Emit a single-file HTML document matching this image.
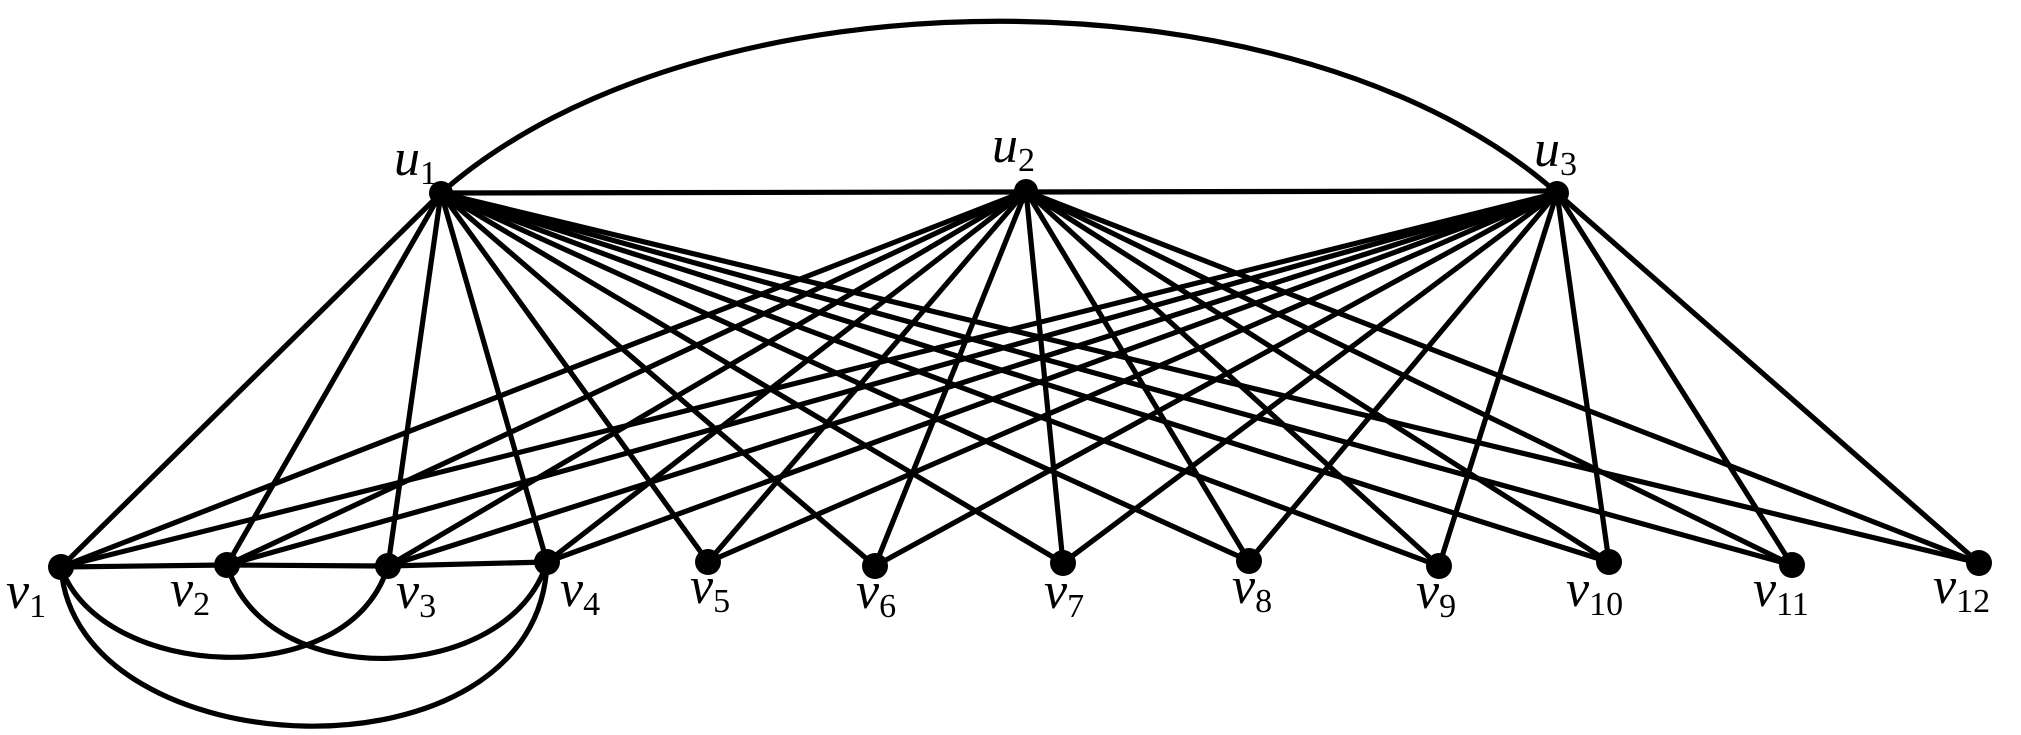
<!DOCTYPE html>
<html><head><meta charset="utf-8"><style>
html,body{margin:0;padding:0;background:#fff;}
svg{display:block;}
text{font-family:"Liberation Serif",serif;font-style:italic;fill:#000;}
.s{font-style:normal;}
</style></head><body>
<svg width="2021" height="735" viewBox="0 0 2021 735" xmlns="http://www.w3.org/2000/svg">
<g stroke="#000" stroke-width="5.2" fill="none" stroke-linecap="round">
<path d="M441,193 C700,-36 1300,-36 1557,193"/>
<line x1="441" y1="193" x2="1557" y2="191"/>
<path d="M61,567 C100,680 350,695 388,566"/>
<path d="M227,565 C266,695 510,685 547,562"/>
<path d="M61,567 C75,770 540,790 547,562"/>
<polyline points="61,567 227,565 388,566 547,562"/>
</g>
<g stroke="#000" stroke-width="5.2" stroke-linecap="round">
<line x1="441" y1="193" x2="61" y2="567"/><line x1="441" y1="193" x2="227" y2="565"/><line x1="441" y1="193" x2="388" y2="566"/><line x1="441" y1="193" x2="547" y2="562"/><line x1="441" y1="193" x2="708" y2="562"/><line x1="441" y1="193" x2="875" y2="566"/><line x1="441" y1="193" x2="1063" y2="563"/><line x1="441" y1="193" x2="1249" y2="561"/><line x1="441" y1="193" x2="1439" y2="566"/><line x1="441" y1="193" x2="1609" y2="562"/><line x1="441" y1="193" x2="1792" y2="565"/><line x1="441" y1="193" x2="1979" y2="563"/>
<line x1="1026" y1="191" x2="61" y2="567"/><line x1="1026" y1="191" x2="227" y2="565"/><line x1="1026" y1="191" x2="388" y2="566"/><line x1="1026" y1="191" x2="547" y2="562"/><line x1="1026" y1="191" x2="708" y2="562"/><line x1="1026" y1="191" x2="875" y2="566"/><line x1="1026" y1="191" x2="1063" y2="563"/><line x1="1026" y1="191" x2="1249" y2="561"/><line x1="1026" y1="191" x2="1439" y2="566"/><line x1="1026" y1="191" x2="1609" y2="562"/><line x1="1026" y1="191" x2="1792" y2="565"/><line x1="1026" y1="191" x2="1979" y2="563"/>
<line x1="1557" y1="193" x2="61" y2="567"/><line x1="1557" y1="193" x2="227" y2="565"/><line x1="1557" y1="193" x2="388" y2="566"/><line x1="1557" y1="193" x2="547" y2="562"/><line x1="1557" y1="193" x2="708" y2="562"/><line x1="1557" y1="193" x2="875" y2="566"/><line x1="1557" y1="193" x2="1063" y2="563"/><line x1="1557" y1="193" x2="1249" y2="561"/><line x1="1557" y1="193" x2="1439" y2="566"/><line x1="1557" y1="193" x2="1609" y2="562"/><line x1="1557" y1="193" x2="1792" y2="565"/><line x1="1557" y1="193" x2="1979" y2="563"/>
</g>
<g fill="#000">
<circle cx="441" cy="193" r="12"/><circle cx="1026" cy="191" r="12"/><circle cx="1557" cy="193" r="12"/>
<circle cx="61" cy="567" r="13"/><circle cx="227" cy="565" r="13"/><circle cx="388" cy="566" r="13"/><circle cx="547" cy="562" r="13"/><circle cx="708" cy="562" r="13"/><circle cx="875" cy="566" r="13"/><circle cx="1063" cy="563" r="13"/><circle cx="1249" cy="561" r="13"/><circle cx="1439" cy="566" r="13"/><circle cx="1609" cy="562" r="13"/><circle cx="1792" cy="565" r="13"/><circle cx="1979" cy="563" r="13"/>
</g>
<g font-size="52">
<text x="394" y="175">u<tspan class="s" font-size="34" dy="9">1</tspan></text>
<text x="992" y="162">u<tspan class="s" font-size="34" dy="9">2</tspan></text>
<text x="1534" y="166">u<tspan class="s" font-size="34" dy="9">3</tspan></text>
<text x="6" y="608">v<tspan class="s" font-size="34" dy="9">1</tspan></text>
<text x="170" y="606">v<tspan class="s" font-size="34" dy="9">2</tspan></text>
<text x="396" y="608">v<tspan class="s" font-size="34" dy="9">3</tspan></text>
<text x="560" y="606">v<tspan class="s" font-size="34" dy="9">4</tspan></text>
<text x="690" y="603">v<tspan class="s" font-size="34" dy="9">5</tspan></text>
<text x="856" y="608">v<tspan class="s" font-size="34" dy="9">6</tspan></text>
<text x="1044" y="608">v<tspan class="s" font-size="34" dy="9">7</tspan></text>
<text x="1232" y="603">v<tspan class="s" font-size="34" dy="9">8</tspan></text>
<text x="1416" y="608">v<tspan class="s" font-size="34" dy="9">9</tspan></text>
<text x="1566" y="606">v<tspan class="s" font-size="34" dy="9">10</tspan></text>
<text x="1753" y="606">v<tspan class="s" font-size="34" dy="9">11</tspan></text>
<text x="1933" y="603">v<tspan class="s" font-size="34" dy="9">12</tspan></text>
</g>
</svg>
</body></html>
